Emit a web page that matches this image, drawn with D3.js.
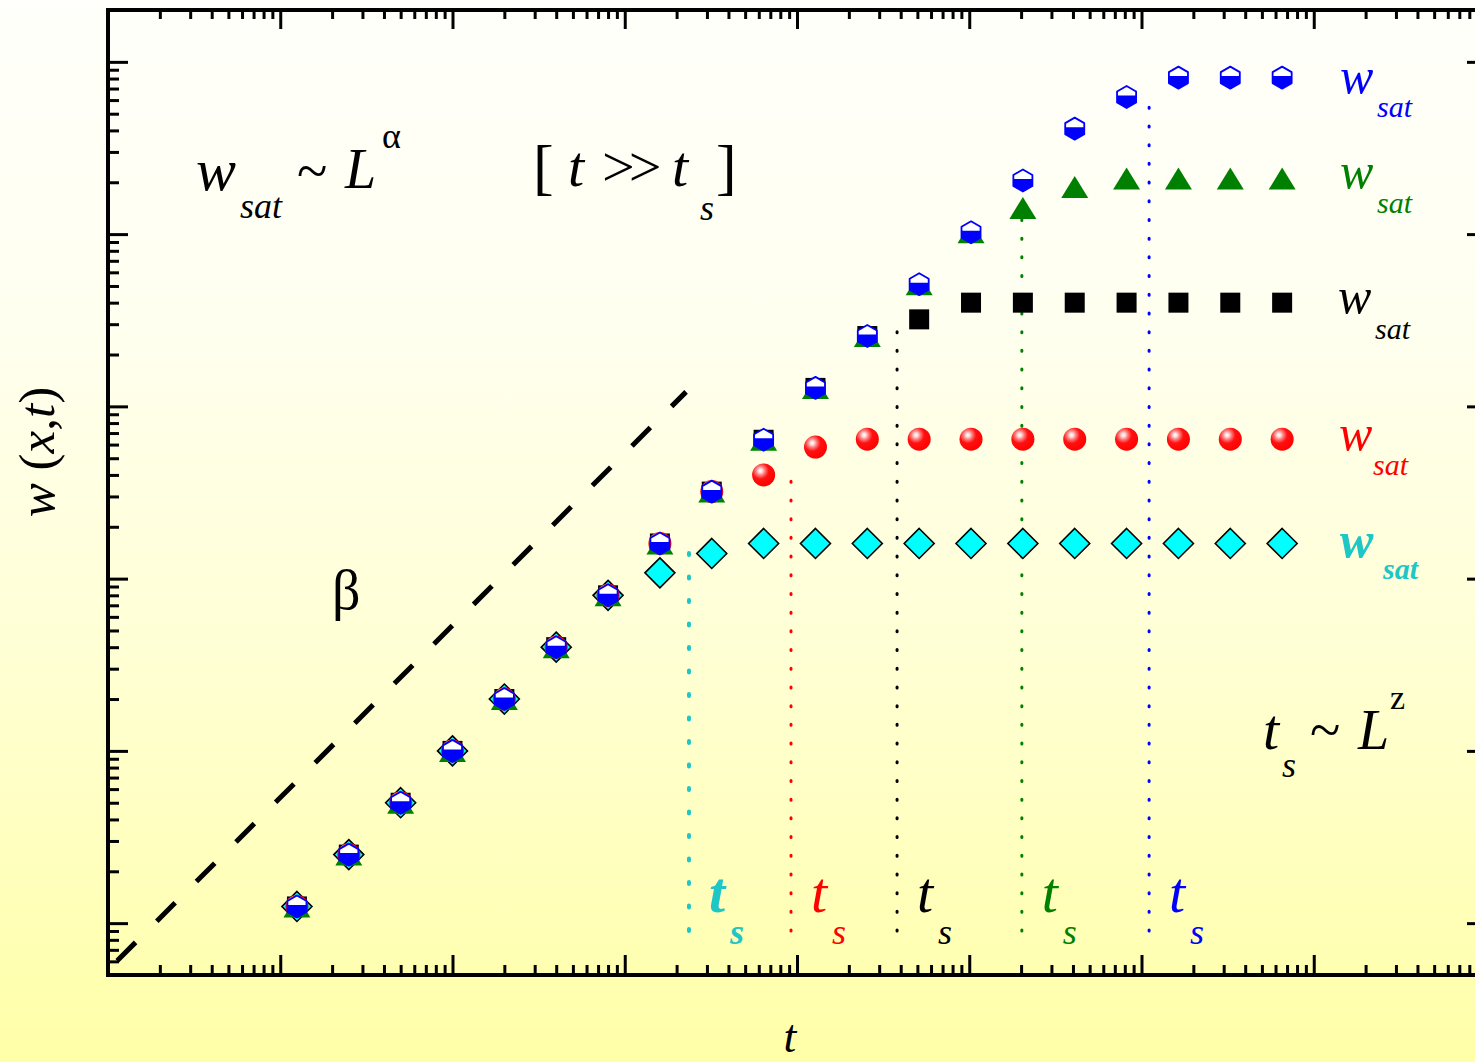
<!DOCTYPE html>
<html>
<head>
<meta charset="utf-8">
<script src="https://cdn.jsdelivr.net/npm/d3@7"></script>
<style>
  html, body { margin: 0; padding: 0; overflow: hidden; background: #ffffe6; }
  svg { display: block; }
</style>
</head>
<body>
<svg id="chart" width="1475" height="1062"></svg>
<script>
// Time steps: t doubles from one step to the next
const times = [1.25, 2.5, 5, 10, 20, 40, 80, 160, 320, 640, 1280, 2560,
               5120, 10240, 20480, 40960, 81920, 163840, 327680, 655360];

// Interface width w(x,t) for five system sizes L (smallest first)
const wCyan  = [1.25, 2.5, 5, 10, 20, 40, 80, 108, 140, 160, 160, 160,
                160, 160, 160, 160, 160, 160, 160, 160];
const wRed   = [1.25, 2.5, 5, 10, 20, 40, 80, 160, 320, 400, 580, 645,
                645, 645, 645, 645, 645, 645, 645, 645];
const wBlack = [1.25, 2.5, 5, 10, 20, 40, 80, 160, 320, 640, 1280, 2560,
                3200, 4000, 4000, 4000, 4000, 4000, 4000, 4000];
const wGreen = [1.25, 2.5, 5, 10, 20, 40, 80, 160, 320, 640, 1280, 2560,
                5120, 10240, 14200, 18800, 21000, 21000, 21000, 21000];
const wBlue  = [1.25, 2.5, 5, 10, 20, 40, 80, 160, 320, 640, 1280, 2560,
                5120, 10240, 20480, 40960, 62500, 81000, 81000, 81000];

// Crossover times t_s for each size, with the width where each marker line stops
const crossTimes = [236, 923, 3810, 20200, 110700];
const crossTopW  = [150, 450, 2965, 12400, 67000];
const crossBottomW = 0.9;

// Growth-regime guide line w ~ t^beta (two end points)
const guideT = [0.1, 227];
const guideW = [0.535, 1214];

// Axis extents and ticks
const xDomain = [0.1, 1e7];
const yDomain = [0.5, 2e5];
const xMajor = [0.1, 1, 10, 100, 1e3, 1e4, 1e5, 1e6, 1e7];
const yMajor = [1, 10, 100, 1e3, 1e4, 1e5];

const FONT = "'Liberation Serif', 'DejaVu Serif', serif";
const CYAN = "#1ec6c6", RED = "#ff0000", BLACK = "#000000", GREEN = "#008000", BLUE = "#0000ff";

const svg = d3.select("#chart");
const W = 1475, H = 1062;

const pL = 108, pT = 10, pR = 1486, pB = 975;
const x = d3.scaleLog().domain(xDomain).range([pL, pR]);
const y = d3.scaleLog().domain(yDomain).range([pB, pT]);

const defs = svg.append("defs");

// page background: soft vertical fade from near-white to pale yellow
const bg = defs.append("linearGradient").attr("id", "bgGrad")
  .attr("x1", 0).attr("y1", 0).attr("x2", 0).attr("y2", 1);
[[0, "#fffffb"], [0.3, "#fffff0"], [0.6, "#ffffd6"], [1, "#ffffa8"]]
  .forEach(([o, c]) => bg.append("stop").attr("offset", o).attr("stop-color", c));
svg.append("rect").attr("width", W).attr("height", H).attr("fill", "url(#bgGrad)");

// shiny red ball
const ball = defs.append("radialGradient").attr("id", "ballGrad")
  .attr("cx", 0.36).attr("cy", 0.32).attr("r", 0.72);
[[0, "#ffffff"], [0.1, "#ffe4e4"], [0.28, "#ff7878"], [0.5, "#ff1010"], [1, "#ff0000"]]
  .forEach(([o, c]) => ball.append("stop").attr("offset", o).attr("stop-color", c));

defs.append("clipPath").attr("id", "plotClip")
  .append("rect").attr("x", pL).attr("y", pT)
  .attr("width", pR - pL).attr("height", pB - pT);

// ---- minor tick lists
function minorTicks(lo, hi) {
  const out = [];
  for (let e = Math.floor(Math.log10(lo)); e <= Math.ceil(Math.log10(hi)); e++) {
    for (let m = 2; m <= 9; m++) {
      const v = m * Math.pow(10, e);
      if (v > lo * 1.0001 && v < hi * 0.9999) out.push(v);
    }
  }
  return out;
}
const xMinor = minorTicks(xDomain[0], xDomain[1]);
const yMinor = minorTicks(yDomain[0], yDomain[1]);

// ---- axes (ticks point inward on all four sides)
function styleAxis(g) {
  g.select(".domain").remove();
  g.selectAll(".tick line").attr("stroke", "#000").attr("stroke-width", 3);
  g.selectAll(".tick text").remove();
}
const axes = svg.append("g");
[[xMajor, 20], [xMinor, 10]].forEach(([vals, len]) => {
  axes.append("g").attr("transform", `translate(0,${pB})`)
    .call(d3.axisBottom(x).tickValues(vals).tickSize(-len).tickFormat(""))
    .call(styleAxis);
  axes.append("g").attr("transform", `translate(0,${pT})`)
    .call(d3.axisTop(x).tickValues(vals).tickSize(-(len - 1)).tickFormat(""))
    .call(styleAxis);
});
[[yMajor, 20], [yMinor, 11]].forEach(([vals, len]) => {
  axes.append("g").attr("transform", `translate(${pL},0)`)
    .call(d3.axisLeft(y).tickValues(vals).tickSize(-len).tickFormat(""))
    .call(styleAxis);
  axes.append("g").attr("transform", `translate(${pR},0)`)
    .call(d3.axisRight(y).tickValues(vals).tickSize(-(len - 1)).tickFormat(""))
    .call(styleAxis);
});
// frame
axes.append("path")
  .attr("d", `M${pL},${pT}H${pR}V${pB}H${pL}Z`)
  .attr("fill", "none").attr("stroke", "#000").attr("stroke-width", 4);

const plot = svg.append("g").attr("clip-path", "url(#plotClip)");

// ---- dashed guide line (slope beta)
plot.append("path")
  .datum(guideT.map((t, i) => [t, guideW[i]]))
  .attr("d", d3.line().x(d => x(d[0])).y(d => y(d[1])))
  .attr("fill", "none").attr("stroke", "#000").attr("stroke-width", 5)
  .attr("stroke-dasharray", "26,30").attr("stroke-dashoffset", 43);

// ---- dotted crossover lines
const crossColors = [CYAN, RED, BLACK, GREEN, BLUE];
crossTimes.forEach((ts, i) => {
  const wide = i === 0;
  plot.append("line")
    .attr("x1", x(ts)).attr("x2", x(ts))
    .attr("y1", y(crossBottomW)).attr("y2", y(crossTopW[i]))
    .attr("stroke", crossColors[i])
    .attr("stroke-width", wide ? 4 : 3)
    .attr("stroke-linecap", "round")
    .attr("stroke-dasharray", wide ? "2,21.5" : "1,17.7");
});

// ---- markers
function series(vals) { return vals.map((w, i) => ({ t: times[i], w })); }

// cyan diamonds
plot.append("g").selectAll("path").data(series(wCyan)).join("path")
  .attr("transform", d => `translate(${x(d.t)},${y(d.w)})`)
  .attr("d", "M0,-15L15,0L0,15L-15,0Z")
  .attr("fill", "#00ffff").attr("stroke", "#000").attr("stroke-width", 1.6);

// black squares
plot.append("g").selectAll("rect").data(series(wBlack)).join("rect")
  .attr("x", d => x(d.t) - 10).attr("y", d => y(d.w) - 10)
  .attr("width", 20).attr("height", 20).attr("fill", "#000");

// red balls
plot.append("g").selectAll("circle").data(series(wRed)).join("circle")
  .attr("cx", d => x(d.t)).attr("cy", d => y(d.w)).attr("r", 11.5)
  .attr("fill", "url(#ballGrad)");

// green triangles
plot.append("g").selectAll("path").data(series(wGreen)).join("path")
  .attr("transform", d => `translate(${x(d.t)},${y(d.w)})`)
  .attr("d", "M0,-11L13.5,11L-13.5,11Z")
  .attr("fill", GREEN);

// blue half-filled hexagons
const hr = 11, hw = hr * Math.cos(Math.PI / 6), cut = -1.5;
const hexPath = `M0,${-hr}L${hw},${-hr / 2}L${hw},${hr / 2}L0,${hr}L${-hw},${hr / 2}L${-hw},${-hr / 2}Z`;
const topPath = `M0,${-hr}L${hw},${-hr / 2}L${hw},${cut}L${-hw},${cut}L${-hw},${-hr / 2}Z`;
const hex = plot.append("g").selectAll("g").data(series(wBlue)).join("g")
  .attr("transform", d => `translate(${x(d.t)},${y(d.w)})`);
hex.append("path").attr("d", hexPath).attr("fill", BLUE);
hex.append("path").attr("d", topPath).attr("fill", "#fff");
hex.append("path").attr("d", hexPath).attr("fill", "none")
  .attr("stroke", BLUE).attr("stroke-width", 1.8).attr("stroke-linejoin", "round");

// ---- text helpers
function txt(px, py, s, size, opts = {}) {
  return svg.append("text")
    .attr("x", px).attr("y", py)
    .attr("font-family", FONT)
    .attr("font-size", size)
    .attr("font-style", opts.italic === false ? "normal" : "italic")
    .attr("font-weight", opts.bold ? "bold" : "normal")
    .attr("fill", opts.color || "#000")
    .attr("letter-spacing", opts.ls || 0)
    .text(s);
}

// w_sat ~ L^alpha
txt(196, 190, "w", 60);
txt(240, 218, "sat", 36);
txt(297, 190, "~", 56, { italic: false });
txt(345, 188, "L", 56);
txt(382, 148, "α", 36, { italic: false });

// [ t >> t_s ]
txt(533, 188, "[", 62, { italic: false });
txt(568, 186, "t", 58);
txt(602, 186, ">>", 58, { italic: false, ls: -6 });
txt(672, 186, "t", 58);
txt(700, 220, "s", 36);
txt(716, 188, "]", 62, { italic: false });

// beta
txt(332, 609, "β", 56, { italic: false });

// t_s ~ L^z
txt(1263, 749, "t", 58);
txt(1282, 777, "s", 36);
txt(1310, 749, "~", 56, { italic: false });
txt(1358, 749, "L", 56);
txt(1390, 709, "z", 34, { italic: false });

// saturation labels on the right
const satLabels = [
  { c: BLUE,  yw: 93,  ys: 117, xw: 1340, xs: 1377, bold: false },
  { c: GREEN, yw: 188, ys: 213, xw: 1340, xs: 1377, bold: false },
  { c: BLACK, yw: 313, ys: 339, xw: 1338, xs: 1375, bold: false },
  { c: RED,   yw: 450, ys: 475, xw: 1339, xs: 1373, bold: false },
  { c: CYAN,  yw: 557, ys: 579, xw: 1340, xs: 1383, bold: true }
];
satLabels.forEach(l => {
  txt(l.xw, l.yw, "w", 50, { color: l.c, bold: l.bold });
  txt(l.xs, l.ys, "sat", 30, { color: l.c, bold: l.bold });
});

// t_s labels next to each dotted line
crossTimes.forEach((ts, i) => {
  const bx = x(ts);
  txt(bx + 20, 912, "t", 58, { color: crossColors[i], bold: i === 0 });
  txt(bx + 41, 944, "s", 36, { color: crossColors[i], bold: i === 0 });
});

// axis titles
const yl = svg.append("text")
  .attr("transform", "translate(54,452) rotate(-90)")
  .attr("text-anchor", "middle")
  .attr("font-family", FONT).attr("font-size", 51).attr("fill", "#000");
[["w", true], [" (", false], ["x", true], [",", false], ["t", true], [")", false]]
  .forEach(([s, it]) => yl.append("tspan").attr("font-style", it ? "italic" : "normal").text(s));

svg.append("text").attr("x", 790).attr("y", 1052).attr("text-anchor", "middle")
  .attr("font-family", FONT).attr("font-size", 46).attr("font-style", "italic")
  .text("t");
</script>
</body>
</html>
